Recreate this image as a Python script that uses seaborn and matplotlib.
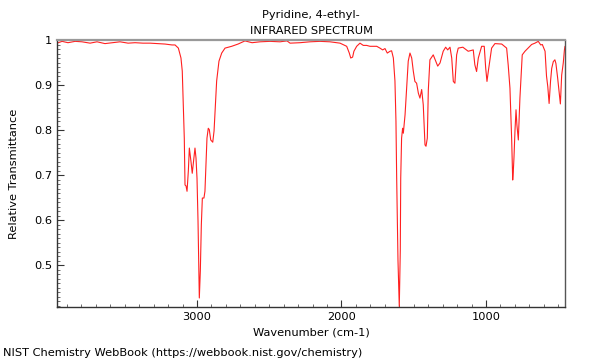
import matplotlib
matplotlib.use("Agg")
import matplotlib.pyplot as plt
import seaborn as sns
import pandas as pd
from matplotlib.ticker import MultipleLocator, FuncFormatter

title_line1 = "Pyridine, 4-ethyl-"
title_line2 = "INFRARED SPECTRUM"
x_label = "Wavenumber (cm-1)"
y_label = "Relative Transmittance"
footer = "NIST Chemistry WebBook (https://webbook.nist.gov/chemistry)"

wavenumber = [3969, 3934, 3893, 3844, 3796, 3740, 3692, 3637, 3588, 3533, 3477, 3429,
              3374, 3325, 3270, 3221, 3173, 3152, 3129, 3111, 3102, 3095, 3088, 3083,
              3076, 3069, 3060, 3053, 3042, 3033, 3021, 3014, 3007, 3000, 2993, 2988,
              2984, 2977, 2970, 2963, 2952, 2945, 2938, 2931, 2922, 2915, 2905, 2891,
              2882, 2875, 2864, 2848, 2829, 2806, 2760, 2716, 2668, 2619, 2564, 2495,
              2426, 2377, 2356, 2287, 2218, 2149, 2080, 2010, 1964, 1946, 1936, 1923,
              1914, 1895, 1872, 1849, 1826, 1803, 1756, 1734, 1715, 1699, 1683, 1664,
              1653, 1641, 1630, 1623, 1618, 1609, 1600, 1593, 1590, 1584, 1577, 1572,
              1560, 1549, 1538, 1526, 1514, 1503, 1492, 1480, 1468, 1457, 1445, 1434,
              1422, 1415, 1406, 1399, 1388, 1365, 1334, 1318, 1296, 1279, 1265, 1249,
              1237, 1226, 1215, 1203, 1192, 1160, 1123, 1088, 1077, 1065, 1053, 1030,
              1012, 1002, 993, 984, 961, 938, 891, 857, 846, 834, 822, 815,
              811, 806, 799, 792, 786, 776, 765, 749, 730, 684, 661, 638,
              621, 610, 591, 581, 572, 563, 553, 545, 534, 523, 516, 504,
              493, 485, 476, 465, 457, 453]
transmittance = [0.993, 0.997, 0.994, 0.997, 0.996, 0.993, 0.996, 0.992, 0.994, 0.996, 0.993, 0.994,
                 0.993, 0.993, 0.992, 0.991, 0.989, 0.989, 0.982, 0.960, 0.931, 0.856, 0.782, 0.678,
                 0.676, 0.664, 0.709, 0.760, 0.731, 0.704, 0.738, 0.760, 0.738, 0.693, 0.598, 0.501,
                 0.427, 0.487, 0.590, 0.649, 0.649, 0.664, 0.723, 0.782, 0.804, 0.801, 0.778, 0.773,
                 0.798, 0.842, 0.909, 0.953, 0.971, 0.982, 0.986, 0.991, 0.998, 0.994, 0.996, 0.997,
                 0.996, 0.998, 0.993, 0.994, 0.996, 0.997, 0.996, 0.993, 0.986, 0.971, 0.960, 0.962,
                 0.975, 0.986, 0.993, 0.988, 0.988, 0.986, 0.986, 0.982, 0.978, 0.981, 0.971, 0.975,
                 0.976, 0.960, 0.909, 0.820, 0.693, 0.511, 0.408, 0.533, 0.693, 0.782, 0.804, 0.793,
                 0.834, 0.893, 0.953, 0.971, 0.960, 0.931, 0.908, 0.904, 0.882, 0.871, 0.890, 0.856,
                 0.767, 0.764, 0.782, 0.889, 0.956, 0.967, 0.942, 0.949, 0.975, 0.984, 0.978, 0.984,
                 0.960, 0.908, 0.904, 0.967, 0.982, 0.984, 0.975, 0.978, 0.945, 0.930, 0.960, 0.986,
                 0.986, 0.938, 0.908, 0.930, 0.982, 0.992, 0.991, 0.982, 0.944, 0.893, 0.778, 0.689,
                 0.707, 0.740, 0.800, 0.845, 0.812, 0.778, 0.871, 0.967, 0.975, 0.990, 0.993, 0.997,
                 0.989, 0.990, 0.975, 0.920, 0.896, 0.859, 0.909, 0.937, 0.952, 0.956, 0.948, 0.916,
                 0.882, 0.858, 0.922, 0.949, 0.978, 0.986]

df = pd.DataFrame({"wn": wavenumber, "T": transmittance})

sns.set_style("white")
plt.rcParams["font.family"] = ["DejaVu Sans"]
fs = 8.2

fig = plt.figure(figsize=(6, 3.6), dpi=100)
ax = fig.add_axes([57/600, 1 - 307/360, (565-57)/600, (307-40)/360])

sns.lineplot(data=df, x="wn", y="T", ax=ax, color="#ff2020", linewidth=0.8,
             estimator=None, sort=False)

ax.set_xlim(3969, 453)
ax.set_ylim(0.407, 1.0)

ax.xaxis.set_major_locator(MultipleLocator(1000))
ax.xaxis.set_minor_locator(MultipleLocator(100))
ax.yaxis.set_major_locator(MultipleLocator(0.1))
ax.yaxis.set_minor_locator(MultipleLocator(0.01))
ax.yaxis.set_major_formatter(FuncFormatter(lambda v, p: f"{v:g}"))
ax.xaxis.set_major_formatter(FuncFormatter(lambda v, p: f"{v:g}"))

ax.tick_params(axis="both", which="major", direction="in", length=5, width=0.8,
               labelsize=fs, labelcolor="black", color="#333333",
               bottom=True, left=True, top=False, right=False)
ax.tick_params(axis="both", which="minor", direction="in", length=2.5, width=0.6,
               color="#555555", bottom=True, left=True, top=False, right=False)

for side in ["left", "bottom"]:
    ax.spines[side].set_color("#333333")
    ax.spines[side].set_linewidth(1.0)
ax.spines["right"].set_color("#555555")
ax.spines["right"].set_linewidth(1.0)
ax.spines["top"].set_color("#999999")
ax.spines["top"].set_linewidth(1.6)

ax.set_xlabel(x_label, fontsize=fs, labelpad=4, color="black")
ax.set_ylabel(y_label, fontsize=fs, labelpad=11, color="black")
ax.set_title(title_line1 + "\n" + title_line2, fontsize=fs, pad=4, linespacing=1.8,
             color="black")

fig.text(3/600, 1 - 353/360, footer, fontsize=fs, ha="left", va="center", color="black")

fig.savefig("out.png", dpi=100)
